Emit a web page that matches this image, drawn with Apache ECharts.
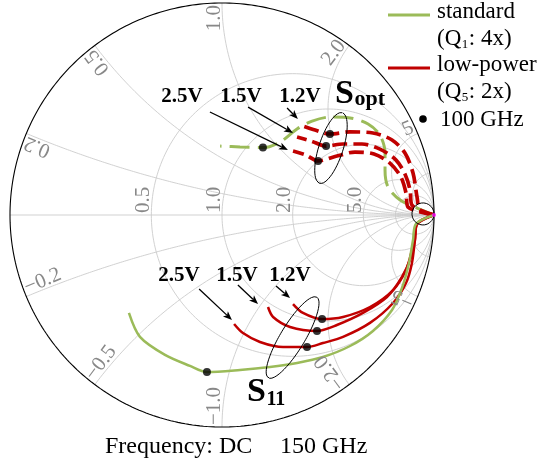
<!DOCTYPE html>
<html>
<head>
<meta charset="utf-8">
<script src="https://cdn.jsdelivr.net/npm/echarts@6/dist/echarts.min.js"></script>
<style>
html,body{margin:0;padding:0;background:#ffffff;}
#chart{width:540px;height:463px;}
</style>
</head>
<body>
<div id="chart"></div>
<script>
// Smith chart grid: labelled resistance circles and reactance arcs
const resistanceTicks = [0.5, 1, 2, 5];
const resistanceLabels = ['0.5', '1.0', '2.0', '5.0'];
const reactanceTicks = [0.2, 0.5, 1, 2, 5];
const reactanceLabelsPos = ['0.2', '0.5', '1.0', '2.0', '5'];
const reactanceLabelsNeg = ['\u22120.2', '\u22120.5', '\u22121.0', '\u22122.0', '\u22125'];
const extraResistance = [10];
const extraReactance = [10];

// Reflection coefficients [Re, Im], ordered from DC up to 150 GHz
const soptStandard = [[1,0],[0.920,0.033],[0.840,0.071],[0.783,0.132],[0.769,0.212],[0.769,0.292],[0.745,0.377],[0.689,0.429],[0.604,0.458],[0.509,0.462],[0.425,0.443],[0.354,0.406],[0.274,0.344],[0.193,0.318],[0.085,0.321],[-0.009,0.325]];
const soptLow12 = [[1,0],[0.934,0.024],[0.920,0.085],[0.901,0.198],[0.863,0.292],[0.802,0.354],[0.712,0.387],[0.604,0.392],[0.509,0.382],[0.439,0.401],[0.368,0.425]];
const soptLow15 = [[1,0],[0.896,0.047],[0.887,0.118],[0.863,0.193],[0.821,0.259],[0.745,0.311],[0.660,0.335],[0.571,0.335],[0.491,0.325],[0.420,0.349],[0.354,0.368]];
const soptLow25 = [[1,0],[0.877,0.038],[0.868,0.104],[0.844,0.179],[0.792,0.245],[0.717,0.288],[0.627,0.297],[0.542,0.278],[0.453,0.255],[0.396,0.283],[0.335,0.302]];

const s11Standard = [[1,0],[0.915,-0.042],[0.901,-0.118],[0.882,-0.226],[0.849,-0.344],[0.802,-0.448],[0.712,-0.547],[0.604,-0.618],[0.476,-0.670],[0.354,-0.698],[0.226,-0.717],[0.085,-0.731],[-0.071,-0.741],[-0.151,-0.712],[-0.269,-0.660],[-0.387,-0.575],[-0.439,-0.462]];
const s11Low12 = [[1,0],[0.920,-0.042],[0.910,-0.094],[0.896,-0.165],[0.868,-0.259],[0.807,-0.354],[0.698,-0.434],[0.571,-0.481],[0.472,-0.491],[0.382,-0.462],[0.335,-0.420]];
const s11Low15 = [[1,0],[0.920,-0.042],[0.910,-0.118],[0.892,-0.198],[0.849,-0.292],[0.778,-0.387],[0.665,-0.462],[0.542,-0.519],[0.448,-0.547],[0.321,-0.528],[0.241,-0.481],[0.217,-0.434]];
const s11Low25 = [[1,0],[0.920,-0.042],[0.910,-0.118],[0.896,-0.226],[0.868,-0.321],[0.807,-0.415],[0.698,-0.509],[0.571,-0.575],[0.476,-0.604],[0.401,-0.623],[0.288,-0.623],[0.179,-0.599],[0.099,-0.557],[0.057,-0.514]];

// 100 GHz points on each trace
const soptAt100GHz = [[0.193,0.318],[0.509,0.382],[0.491,0.325],[0.453,0.255]];
const s11At100GHz = [[-0.071,-0.741],[0.472,-0.491],[0.448,-0.547],[0.401,-0.623]];

// Annotation ellipses: [centre Re, centre Im, semi-major, semi-minor, tilt in degrees]
const soptEllipse = [0.514, 0.316, 0.175, 0.057, 72];
const s11Ellipse = [0.333, -0.578, 0.222, 0.058, 59];
const dcCircle = [0.948, 0.005, 0.052, 0.052, 0];

// Bias-voltage arrows: [from Re, from Im, to Re, to Im]
const voltageNames = ['2.5V', '1.5V', '1.2V'];
const soptArrows = [[-0.057,0.486,0.311,0.307],[0.123,0.509,0.335,0.387],[0.307,0.505,0.358,0.453]];
const s11Arrows = [[-0.108,-0.349,0.047,-0.495],[0.075,-0.330,0.170,-0.420],[0.255,-0.335,0.321,-0.392]];

const GREEN = '#9BBB59', RED = '#C00000';
const GRID_LINE = '#cccccc', LABEL_GRAY = '#888888';
const SERIF = '"Liberation Serif", "DejaVu Serif", serif';

function circlePts(cx, cy, rad, n) {
  const pts = [];
  for (let i = 0; i <= n; i++) {
    const a = 2 * Math.PI * i / n;
    pts.push([cx + rad * Math.cos(a), cy + rad * Math.sin(a)]);
  }
  return pts;
}
function ellipsePts(e, n) {
  const [cx, cy, a, b, tilt] = e;
  const t = tilt * Math.PI / 180, pts = [];
  for (let i = 0; i <= n; i++) {
    const p = 2 * Math.PI * i / n;
    const u = a * Math.cos(p), v = b * Math.sin(p);
    pts.push([cx + u * Math.cos(t) - v * Math.sin(t), cy + u * Math.sin(t) + v * Math.cos(t)]);
  }
  return pts;
}
// constant-reactance arc inside the unit circle
function reactanceArc(x, n) {
  const s = Math.sign(x), ax = Math.abs(x), rad = 1 / ax;
  let a0 = Math.atan2((ax * ax - 1) / ax, -2);
  if (a0 < 0) a0 += 2 * Math.PI;
  const a1 = 1.5 * Math.PI, pts = [];
  for (let i = 0; i <= n; i++) {
    const a = a0 + (a1 - a0) * i / n;
    pts.push([1 + rad * Math.cos(a), s * (rad + rad * Math.sin(a))]);
  }
  return pts;
}

const series = [];
function addLine(data, lineStyle, extra) {
  series.push(Object.assign({
    type: 'line', data: data, symbol: 'none', showSymbol: false, silent: true,
    clip: false, animation: false, lineStyle: lineStyle, emphasis: { disabled: true }, z: 2
  }, extra || {}));
}

resistanceTicks.concat(extraResistance).forEach(r => {
  addLine(circlePts(r / (r + 1), 0, 1 / (r + 1), 240), { color: GRID_LINE, width: 0.9 });
});
reactanceTicks.concat(extraReactance).forEach(x => {
  addLine(reactanceArc(x, 180), { color: GRID_LINE, width: 0.9 });
  addLine(reactanceArc(-x, 180), { color: GRID_LINE, width: 0.9 });
});
addLine([[-1, 0], [1, 0]], { color: GRID_LINE, width: 0.9 });
addLine(circlePts(0, 0, 1, 360), { color: '#000000', width: 1.1 }, { z: 3 });

const SM = 0.3;
addLine(soptStandard, { color: GREEN, width: 3, type: [20, 8] }, { smooth: SM, z: 5 });
addLine(soptLow12, { color: RED, width: 3.7, type: [15, 6] }, { smooth: SM, z: 5 });
addLine(soptLow15, { color: RED, width: 3.7, type: [15, 6] }, { smooth: SM, z: 5 });
addLine(soptLow25, { color: RED, width: 3.7, type: [15, 6] }, { smooth: SM, z: 5 });
addLine(s11Low12, { color: RED, width: 2.5 }, { smooth: SM, z: 5 });
addLine(s11Low15, { color: RED, width: 2.5 }, { smooth: SM, z: 5 });
addLine(s11Low25, { color: RED, width: 2.5 }, { smooth: SM, z: 5 });
addLine(s11Standard, { color: GREEN, width: 2.5 }, { smooth: SM, z: 5 });

addLine(ellipsePts(soptEllipse, 120), { color: '#000000', width: 1 }, { z: 8 });
addLine(ellipsePts(s11Ellipse, 120), { color: '#000000', width: 1 }, { z: 8 });
addLine(ellipsePts(dcCircle, 80), { color: '#000000', width: 1 }, { z: 8 });

series.push({
  type: 'scatter', data: soptAt100GHz.concat(s11At100GHz), symbol: 'circle', symbolSize: 8,
  itemStyle: { color: '#000000' }, silent: true, animation: false, z: 10
});
series.push({
  type: 'scatter', data: [[1, 0]], symbol: 'circle', symbolSize: 4,
  itemStyle: { color: '#ff00ff' }, silent: true, animation: false, z: 11
});

const chart = echarts.init(document.getElementById('chart'), null, { renderer: 'canvas' });
chart.setOption({
  animation: false,
  backgroundColor: '#ffffff',
  grid: { left: 10, top: 3, width: 424, height: 424 },
  xAxis: { type: 'value', min: -1, max: 1, show: false },
  yAxis: { type: 'value', min: -1, max: 1, show: false },
  series: series
});

const px = p => chart.convertToPixel({ gridIndex: 0 }, p);
const mctx = document.createElement('canvas').getContext('2d');
function textWidth(str, fs, weight) {
  mctx.font = (weight || 'normal') + ' ' + fs + 'px ' + SERIF;
  return mctx.measureText(str).width;
}
const graphics = [];
function addText(str, x, y, fs, opts) {
  opts = opts || {};
  graphics.push({
    type: 'text', x: x, y: y, rotation: opts.rotation || 0, silent: true, z: 20,
    style: {
      text: str, fill: opts.color || '#000000', fontSize: fs, fontFamily: SERIF,
      fontWeight: opts.weight || 'normal', align: opts.align || 'left', textAlign: opts.align || 'left',
      verticalAlign: 'middle', textVerticalAlign: 'middle'
    }
  });
}
// text placed by its baseline
function addBaseText(str, x, base, fs, opts) {
  addText(str, x, base - 0.33 * fs, fs, opts);
}

// grid labels
const LFS = 21, LOFF = 8;
reactanceTicks.forEach((x, i) => {
  [1, -1].forEach(sgn => {
    const P = [(x * x - 1) / (x * x + 1), sgn * 2 * x / (x * x + 1)];
    const pp = px(P);
    const out = Math.atan2(P[1], P[0]);
    const rot = sgn > 0 ? out : out + Math.PI;
    const dir = [Math.cos(rot), -Math.sin(rot)], up = [-Math.sin(rot), -Math.cos(rot)];
    const along = sgn > 0 ? -2 : 2;
    addText(sgn > 0 ? reactanceLabelsPos[i] : reactanceLabelsNeg[i],
      pp[0] + dir[0] * along + up[0] * LOFF, pp[1] + dir[1] * along + up[1] * LOFF, LFS,
      { rotation: rot, align: sgn > 0 ? 'right' : 'left', color: LABEL_GRAY });
  });
});
resistanceTicks.forEach((r, i) => {
  const pp = px([(r - 1) / (r + 1), 0]);
  addText(resistanceLabels[i], pp[0] - LOFF, pp[1] - 2, LFS,
    { rotation: Math.PI / 2, align: 'left', color: LABEL_GRAY });
});

// arrows
function addArrow(a) {
  const p0 = px([a[0], a[1]]), p1 = px([a[2], a[3]]);
  const dx = p1[0] - p0[0], dy = p1[1] - p0[1], L = Math.hypot(dx, dy);
  const ux = dx / L, uy = dy / L, nx = -uy, ny = ux;
  const hl = 9, hw = 3.6;
  const bx = p1[0] - ux * hl, by = p1[1] - uy * hl;
  graphics.push({ type: 'line', silent: true, z: 15,
    shape: { x1: p0[0], y1: p0[1], x2: bx + ux * 2, y2: by + uy * 2 },
    style: { stroke: '#000000', lineWidth: 1.3 } });
  graphics.push({ type: 'polygon', silent: true, z: 15,
    shape: { points: [[p1[0], p1[1]], [bx + nx * hw, by + ny * hw], [p1[0] - ux * hl * 0.75, p1[1] - uy * hl * 0.75], [bx - nx * hw, by - ny * hw]] },
    style: { fill: '#000000' } });
}
soptArrows.forEach(addArrow);
s11Arrows.forEach(addArrow);

// voltage labels
const BFS = 21;
[182, 241, 300].forEach((x, i) => addBaseText(voltageNames[i], x, 104, BFS, { weight: 'bold', align: 'center' }));
[179, 237, 290].forEach((x, i) => addBaseText(voltageNames[i], x, 283, BFS, { weight: 'bold', align: 'center' }));

// S_opt and S11 names
function addSubscripted(main, sub, x, base, fsMain, fsSub, subDrop, weight) {
  addBaseText(main, x, base, fsMain, { weight: weight });
  addBaseText(sub, x + textWidth(main, fsMain, weight) + 0.5, base + subDrop, fsSub, { weight: weight });
}
addSubscripted('S', 'opt', 335, 105, 34, 22, 2, 'bold');
addSubscripted('S', '11', 247, 403, 34, 20, 3, 'bold');

// legend
const GFS = 23;
graphics.push({ type: 'line', silent: true, shape: { x1: 388, y1: 15, x2: 430, y2: 15 }, style: { stroke: GREEN, lineWidth: 3 } });
graphics.push({ type: 'line', silent: true, shape: { x1: 388, y1: 68, x2: 430, y2: 68 }, style: { stroke: RED, lineWidth: 3 } });
graphics.push({ type: 'circle', silent: true, shape: { cx: 423, cy: 119, r: 3.8 }, style: { fill: '#000000' } });
addBaseText('standard', 437, 20, GFS);
addSubscripted('(Q', '1', 437, 47, GFS, 13, 2, 'normal');
addBaseText(': 4x)', 437 + textWidth('(Q', GFS) + textWidth('1', 13) + 1, 47, GFS);
addBaseText('low-power', 437, 73, GFS);
addSubscripted('(Q', '5', 437, 100, GFS, 13, 2, 'normal');
addBaseText(': 2x)', 437 + textWidth('(Q', GFS) + textWidth('5', 13) + 1, 100, GFS);
addBaseText('100 GHz', 440, 128, GFS);

// frequency span
addBaseText('Frequency: DC', 105, 455, 24);
addBaseText('150 GHz', 280, 455, 24);

chart.setOption({ graphic: { elements: graphics } });
</script>
</body>
</html>
